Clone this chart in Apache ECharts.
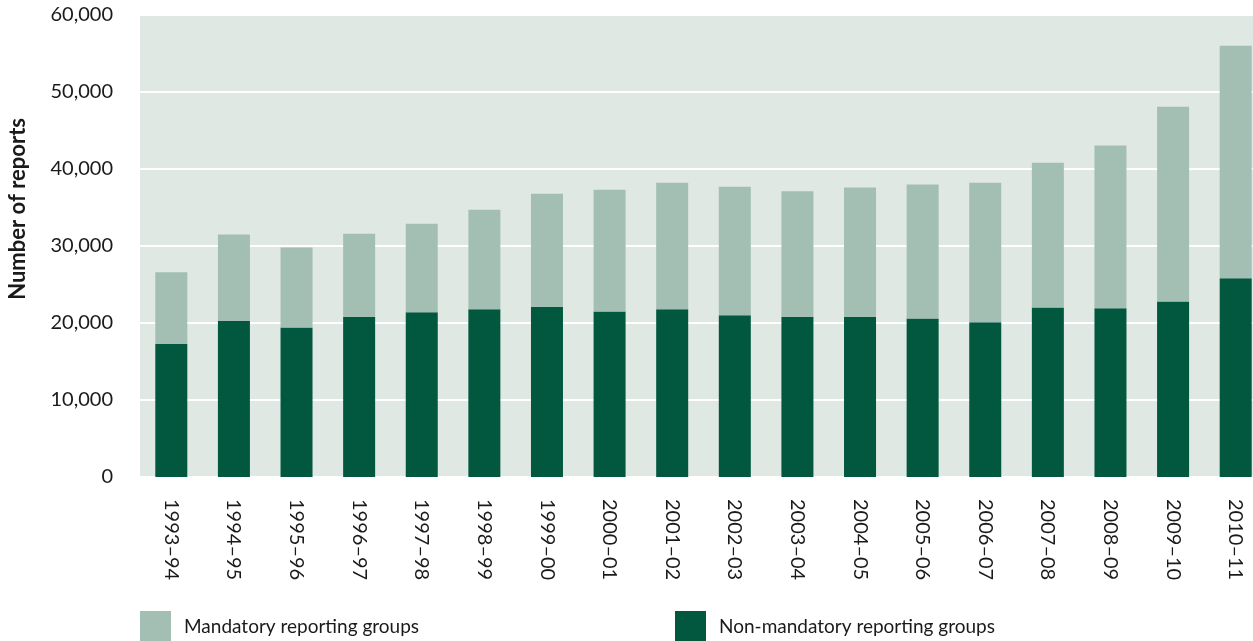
<!DOCTYPE html>
<html>
<head>
<meta charset="utf-8">
<script src="https://cdn.jsdelivr.net/npm/echarts@6/dist/echarts.min.js"></script>
<style>
html,body{margin:0;padding:0;background:#fff;overflow:hidden;}
#chart{width:1267px;height:641px;}
</style>
</head>
<body>
<div id="chart"></div>
<script>
const categories = ['1993–94','1994–95','1995–96','1996–97','1997–98','1998–99','1999–00','2000–01','2001–02','2002–03','2003–04','2004–05','2005–06','2006–07','2007–08','2008–09','2009–10','2010–11'];
const nonMandatory = [17300,20300,19400,20800,21400,21800,22100,21500,21800,21000,20800,20800,20600,20100,22000,21900,22800,25800];
const totals = [26600,31500,29800,31600,32900,34700,36800,37300,38200,37700,37100,37600,38000,38200,40800,43050,48100,56000];
const mandatory = totals.map((t,i)=>t-nonMandatory[i]);
const yTicks = [0,10000,20000,30000,40000,50000,60000];

const FONT = 'Lato, "Open Sans", sans-serif';
const chart = echarts.init(document.getElementById('chart'));
chart.setOption({
  animation:false,
  textStyle:{fontFamily:FONT,color:'#1a1a1a'},
  grid:{left:140,top:15,width:1127,height:462,show:true,backgroundColor:'#dfe8e3',borderWidth:0,containLabel:false},
  legend:[
    {data:['Mandatory reporting groups'],left:140,top:611,padding:0,itemWidth:31,itemHeight:31,icon:'rect',itemGap:0,
     textStyle:{fontFamily:FONT,fontSize:19,color:'#1a1a1a',padding:[0,0,0,8]}},
    {data:['Non-mandatory reporting groups'],left:675,top:611,padding:0,itemWidth:31,itemHeight:31,icon:'rect',itemGap:0,
     textStyle:{fontFamily:FONT,fontSize:19,color:'#1a1a1a',padding:[0,0,0,8]}}
  ],
  xAxis:{type:'category',data:categories,
    axisLine:{show:false},axisTick:{show:false},
    axisLabel:{rotate:-90,fontSize:20,margin:22,color:'#1a1a1a',fontFamily:FONT}},
  yAxis:{type:'value',min:0,max:60000,interval:10000,
    axisLine:{show:false},axisTick:{show:false},
    splitLine:{show:true,lineStyle:{color:'#ffffff',width:2}},
    axisLabel:{fontSize:20,margin:27,color:'#1a1a1a',fontFamily:FONT,
      formatter:v=>yTicks.includes(v)?v.toLocaleString('en-US'):''}},
  graphic:[{type:'text',left:7,top:118,rotation:Math.PI/2,
    style:{text:'Number of reports',fontSize:22,fontWeight:'bold',fill:'#1a1a1a',fontFamily:FONT}}],
  series:[
    {name:'Non-mandatory reporting groups',type:'bar',stack:'a',data:nonMandatory,barWidth:32,
     itemStyle:{color:'#02573f'}},
    {name:'Mandatory reporting groups',type:'bar',stack:'a',data:mandatory,barWidth:32,
     itemStyle:{color:'#a3bfb3'}}
  ]
});
</script>
</body>
</html>
